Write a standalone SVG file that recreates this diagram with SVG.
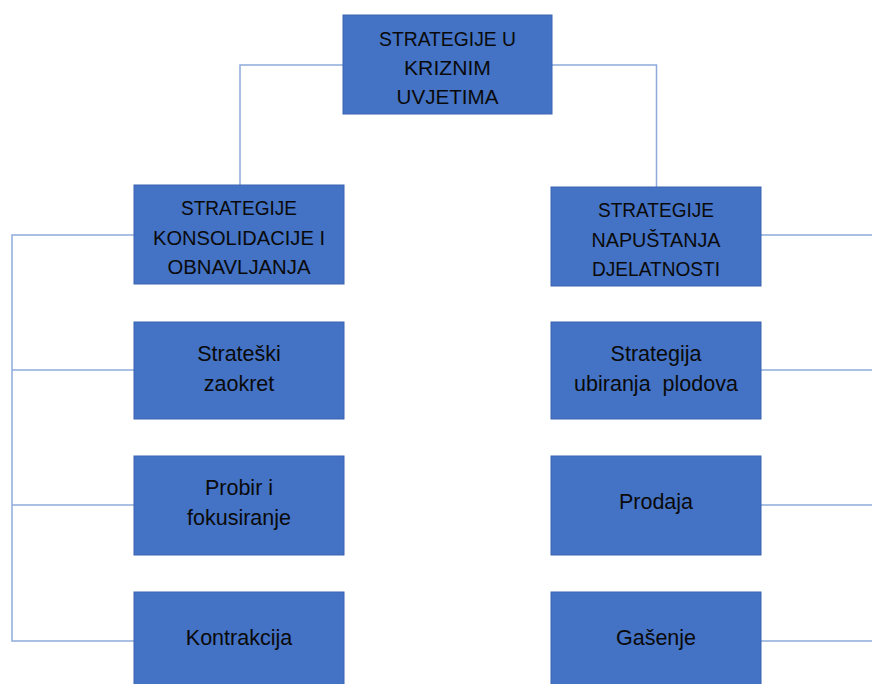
<svg xmlns="http://www.w3.org/2000/svg" width="872" height="684" viewBox="0 0 872 684">
<style>
.box{fill:#4472C4;stroke:#3A64B0;stroke-width:1}
.t{font-family:"Liberation Sans",Arial,sans-serif;font-size:20.5px;fill:#0a0a0a;text-anchor:middle}
.l{font-size:21.5px}
.c{fill:none;stroke:#8FAADC;stroke-width:1.5}
</style>
<rect width="872" height="684" fill="#fff"/>
<g id="connectors">
<path class="c" d="M343,65 H240 V185"/>
<path class="c" d="M552,65 H656.5 V187"/>
<path class="c" d="M134,235 H12 V641 H134 M12,370 H134 M12,505 H134"/>
<path class="c" d="M761,235 H872 M761,370 H872 M761,505 H872 M761,641 H872"/>
</g>
<g id="root">
<rect class="box" x="343" y="15" width="209" height="99"/>
<text class="t" x="447.5" y="46" textLength="137" lengthAdjust="spacingAndGlyphs">STRATEGIJE U</text>
<text class="t" x="447.5" y="75" textLength="87" lengthAdjust="spacingAndGlyphs">KRIZNIM</text>
<text class="t" x="447.5" y="104" textLength="102" lengthAdjust="spacingAndGlyphs">UVJETIMA</text>
</g>
<g id="konsolidacija">
<rect class="box" x="134" y="185" width="210" height="99"/>
<text class="t" x="239" y="215" textLength="116" lengthAdjust="spacingAndGlyphs">STRATEGIJE</text>
<text class="t" x="239" y="245" textLength="172" lengthAdjust="spacingAndGlyphs">KONSOLIDACIJE I</text>
<text class="t" x="239" y="274" textLength="143" lengthAdjust="spacingAndGlyphs">OBNAVLJANJA</text>
</g>
<g id="napustanje">
<rect class="box" x="551" y="187" width="210" height="99"/>
<text class="t" x="656" y="217" textLength="116" lengthAdjust="spacingAndGlyphs">STRATEGIJE</text>
<text class="t" x="656" y="247" textLength="129" lengthAdjust="spacingAndGlyphs">NAPUŠTANJA</text>
<text class="t" x="656" y="276" textLength="128" lengthAdjust="spacingAndGlyphs">DJELATNOSTI</text>
</g>
<g id="zaokret">
<rect class="box" x="134" y="322" width="210" height="97"/>
<text class="t l" x="239" y="361">Strateški</text>
<text class="t l" x="239" y="391">zaokret</text>
</g>
<g id="probir">
<rect class="box" x="134" y="456" width="210" height="99"/>
<text class="t l" x="239" y="495">Probir i</text>
<text class="t l" x="239" y="525">fokusiranje</text>
</g>
<g id="kontrakcija">
<rect class="box" x="134" y="592" width="210" height="100"/>
<text class="t l" x="239" y="645">Kontrakcija</text>
</g>
<g id="ubiranje">
<rect class="box" x="551" y="322" width="210" height="97"/>
<text class="t l" x="656" y="361">Strategija</text>
<text class="t l" x="656" y="391" xml:space="preserve">ubiranja  plodova</text>
</g>
<g id="prodaja">
<rect class="box" x="551" y="456" width="210" height="99"/>
<text class="t l" x="656" y="509">Prodaja</text>
</g>
<g id="gasenje">
<rect class="box" x="551" y="592" width="210" height="100"/>
<text class="t l" x="656" y="645">Gašenje</text>
</g>
</svg>
